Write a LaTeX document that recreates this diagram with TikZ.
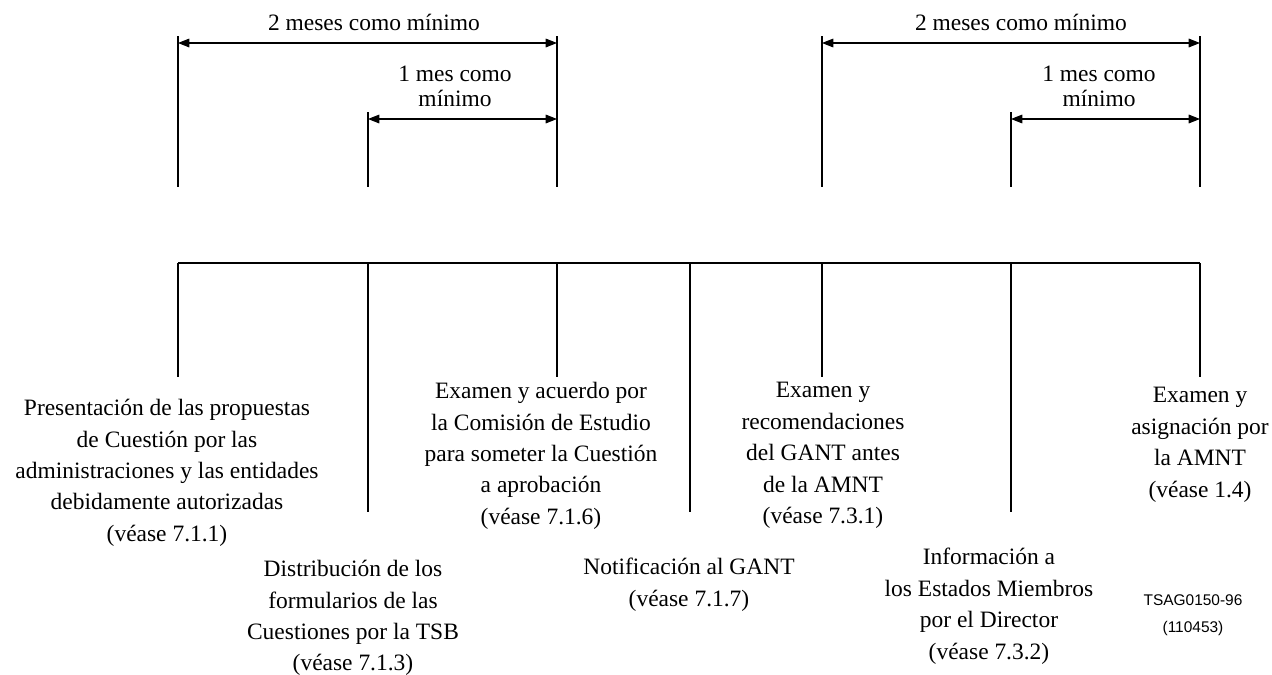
\documentclass[tikz,border=0pt]{standalone}
\usepackage{fontspec}
\setmainfont{Liberation Serif}
\newfontfamily\arialfont{Liberation Sans}
\usetikzlibrary{arrows.meta}
\begin{document}
\begin{tikzpicture}[x=0.75pt,y=-0.75pt,
  tick/.style={line width=0.8pt},
  baseline rule/.style={line width=1.1pt},
  dim/.style={line width=0.8pt,{Triangle[length=8.5pt,width=6.5pt]}-{Triangle[length=8.5pt,width=6.5pt]}},
  lbl/.style={font=\fontsize{17.6}{23.6}\selectfont, align=center, inner sep=0pt},
  toplbl/.style={font=\fontsize{17.6}{18.8}\selectfont, align=center, inner sep=0pt},
  blk/.style={lbl, anchor=north, execute at begin node=\strut},
  refcode/.style={font=\arialfont\fontsize{11.6}{20.25}\selectfont, align=center, inner sep=0pt, anchor=north, execute at begin node=\strut}
]
\useasboundingbox (0,0) rectangle (1272,675);

% x positions of the ticks
\def\xA{178}\def\xB{368}\def\xC{557}\def\xD{690}\def\xE{822}\def\xF{1011}\def\xG{1200}

% top ticks (full height)
\foreach \n/\x in {A/\xA,C/\xC,E/\xE,G/\xG}{
  \coordinate (top\n) at (\x,36);
  \coordinate (topend\n) at (\x,187);
  \draw[tick] (top\n) -- (topend\n);
}
% top ticks (start at the 1-month arrow)
\foreach \n/\x in {B/\xB,F/\xF}{
  \coordinate (top\n) at (\x,112);
  \coordinate (topend\n) at (\x,187);
  \draw[tick] (top\n) -- (topend\n);
}

% time axis
\foreach \n/\x in {A/\xA,B/\xB,C/\xC,D/\xD,E/\xE,F/\xF,G/\xG}{
  \coordinate (ax\n) at (\x,263);
}
\draw[baseline rule] (axA) -- (axG);

% short and long drops
\foreach \n/\x in {A/\xA,C/\xC,E/\xE,G/\xG}{
  \coordinate (drop\n) at (\x,377);
  \draw[tick] (ax\n) -- (drop\n);
}
\foreach \n/\x in {B/\xB,D/\xD,F/\xF}{
  \coordinate (drop\n) at (\x,512);
  \draw[tick] (ax\n) -- (drop\n);
}

% dimension arrows
\coordinate (dA2) at (\xA,43); \coordinate (dC2) at (\xC,43);
\coordinate (dB1) at (\xB,119); \coordinate (dC1) at (\xC,119);
\coordinate (dE2) at (\xE,43); \coordinate (dG2) at (\xG,43);
\coordinate (dF1) at (\xF,119); \coordinate (dG1) at (\xG,119);
\draw[dim] (dA2) -- (dC2);
\draw[dim] (dB1) -- (dC1);
\draw[dim] (dE2) -- (dG2);
\draw[dim] (dF1) -- (dG1);

% dimension labels
\node[lbl, anchor=base] (twoL) at (374,30) {2 meses como mínimo};
\node[toplbl, anchor=south] (oneL) at (455,107) {1 mes como\\mínimo};
\node[lbl, anchor=base] (twoR) at (1021,30) {2 meses como mínimo};
\node[toplbl, anchor=south] (oneR) at (1099,107) {1 mes como\\mínimo};

% event descriptions
\node[blk] (b1) at (167,399) {Presentación de las propuestas\\de Cuestión por las\\administraciones y las entidades\\debidamente autorizadas\\(véase 7.1.1)};
\node[blk] (b2) at (353,560) {Distribución de los\\formularios de las\\Cuestiones por la TSB\\(véase 7.1.3)};
\node[blk] (b3) at (541,382) {Examen y acuerdo por\\la Comisión de Estudio\\para someter la Cuestión\\a aprobación\\(véase 7.1.6)};
\node[blk] (b4) at (823,382) {Examen y\\recomendaciones\\del GANT antes\\de la AMNT\\(véase 7.3.1)};
\node[blk] (b5) at (689,558) {Notificación al GANT\\(véase 7.1.7)};
\node[blk] (b6) at (989,548) {Información a\\los Estados Miembros\\por el Director\\(véase 7.3.2)};
\node[blk] (b7) at (1200,387) {Examen y\\asignación por\\la AMNT\\(véase 1.4)};

\node[refcode] (code) at (1193,594) {TSAG0150-96\\(110453)};
\end{tikzpicture}
\end{document}
